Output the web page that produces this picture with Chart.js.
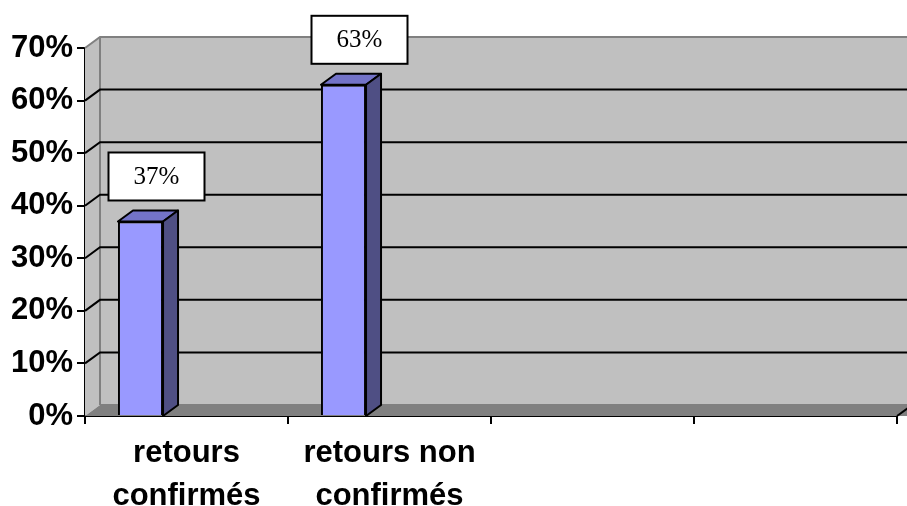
<!DOCTYPE html>
<html><head><meta charset="utf-8">
<script src="https://cdn.jsdelivr.net/npm/chart.js@4/dist/chart.umd.min.js"></script>
<style>html,body{margin:0;padding:0;background:#fff;}canvas{display:block;}</style>
</head><body>
<canvas id="c" width="907" height="506"></canvas>
<script>
const categories = [["retours", "confirmés"], ["retours non", "confirmés"], "", ""];
const values = [0.37, 0.63, null, null];
const yTicks = [0, 0.1, 0.2, 0.3, 0.4, 0.5, 0.6, 0.7];

const DX = 15, DY = -11;
const BAR_SHIFT = 0.2266; // fraction of category width the bars sit left of slot centre

const threeD = {
  id: 'threeD',
  beforeDatasetsDraw(chart) {
    const ctx = chart.ctx, a = chart.chartArea, ys = chart.scales.y;
    const L = a.left, R = a.right, T = a.top, B = a.bottom;
    ctx.save();
    ctx.fillStyle = '#C0C0C0';
    ctx.fillRect(L + DX, T + DY, R - L + 20, B - T);
    ctx.beginPath();
    ctx.moveTo(L, T); ctx.lineTo(L + DX, T + DY); ctx.lineTo(L + DX, B + DY); ctx.lineTo(L, B); ctx.closePath();
    ctx.fill();
    ctx.fillStyle = '#808080';
    ctx.beginPath();
    ctx.moveTo(L, B); ctx.lineTo(L + DX, B + DY); ctx.lineTo(R + DX + 20, B + DY); ctx.lineTo(R + 20, B); ctx.closePath();
    ctx.fill();
    ctx.strokeStyle = '#808080'; ctx.lineWidth = 2;
    ctx.beginPath();
    ctx.moveTo(L, T); ctx.lineTo(L + DX, T + DY); ctx.lineTo(R + DX + 20, T + DY);
    ctx.moveTo(L + DX, T + DY); ctx.lineTo(L + DX, B + DY);
    ctx.moveTo(L + DX, B + DY); ctx.lineTo(R + DX + 20, B + DY);
    ctx.stroke();
    ctx.strokeStyle = '#000'; ctx.lineWidth = 2;
    yTicks.forEach(v => {
      if (v <= 0 || v >= 0.7) return;
      const y = ys.getPixelForValue(v);
      ctx.beginPath();
      ctx.moveTo(L, y); ctx.lineTo(L + DX, y + DY); ctx.lineTo(R + DX + 20, y + DY);
      ctx.stroke();
    });
    ctx.beginPath(); ctx.moveTo(R, B); ctx.lineTo(R + DX, B + DY); ctx.stroke();
    ctx.restore();
    const xs = chart.scales.x;
    const w = (xs.right - xs.left) / categories.length;
    ctx.save();
    ctx.translate(-w * BAR_SHIFT, 0);
  },
  afterDatasetsDraw(chart) {
    const ctx = chart.ctx, a = chart.chartArea;
    const meta = chart.getDatasetMeta(0);
    const B = a.bottom;
    meta.data.forEach((el, i) => {
      if (values[i] == null) return;
      const x0 = el.x - el.width / 2, x1 = el.x + el.width / 2, yT = el.y;
      ctx.lineWidth = 2; ctx.strokeStyle = '#000'; ctx.lineJoin = 'round';
      ctx.fillStyle = '#7373C8';
      ctx.beginPath();
      ctx.moveTo(x0, yT); ctx.lineTo(x0 + DX, yT + DY); ctx.lineTo(x1 + DX, yT + DY); ctx.lineTo(x1, yT); ctx.closePath();
      ctx.fill(); ctx.stroke();
      ctx.fillStyle = '#4F4F84';
      ctx.beginPath();
      ctx.moveTo(x1, yT); ctx.lineTo(x1 + DX, yT + DY); ctx.lineTo(x1 + DX, B + DY); ctx.lineTo(x1, B); ctx.closePath();
      ctx.fill(); ctx.stroke();
    });
    ctx.restore();
    const xs = chart.scales.x;
    const w = (xs.right - xs.left) / categories.length;
    ctx.save();
    meta.data.forEach((el, i) => {
      if (values[i] == null) return;
      const cx = el.x - w * BAR_SHIFT + 16;
      const bottom = el.y + DY - 10;
      const bw = 96, bh = 48;
      ctx.fillStyle = '#fff';
      ctx.fillRect(cx - bw / 2, bottom - bh, bw, bh);
      ctx.strokeStyle = '#000'; ctx.lineWidth = 2;
      ctx.strokeRect(cx - bw / 2, bottom - bh, bw, bh);
      ctx.fillStyle = '#000';
      ctx.font = '25px "Liberation Serif", "Times New Roman", serif';
      ctx.textAlign = 'center'; ctx.textBaseline = 'middle';
      ctx.fillText(Math.round(values[i] * 100) + '%', cx, bottom - bh / 2 + 1);
    });
    ctx.restore();
  }
};

new Chart(document.getElementById('c'), {
  type: 'bar',
  data: {
    labels: categories,
    datasets: [{
      data: values,
      backgroundColor: '#9999FF',
      borderColor: '#000',
      borderWidth: 2,
      categoryPercentage: 1,
      barPercentage: 0.222
    }]
  },
  options: {
    responsive: false,
    animation: false,
    devicePixelRatio: 1,
    layout: { padding: { top: 48, right: 10, left: 0, bottom: 0 } },
    plugins: { legend: { display: false }, tooltip: { enabled: false } },
    scales: {
      x: {
        afterFit(s) { s.height = 90; },
        grid: { offset: true, drawOnChartArea: false, drawTicks: true, tickLength: 8, color: '#000', lineWidth: 2 },
        border: { display: true, color: '#000', width: 2 },
        ticks: {
          color: '#000', padding: 8, maxRotation: 0, autoSkip: false,
          font: { family: '"Liberation Sans", Arial, sans-serif', size: 31, weight: 'bold', lineHeight: 1.38 }
        }
      },
      y: {
        min: 0, max: 0.7,
        afterFit(s) { s.width = 85; },
        afterBuildTicks(s) { s.ticks = yTicks.map(v => ({ value: v })); },
        grid: { drawOnChartArea: false, drawTicks: true, tickLength: 8, color: '#000', lineWidth: 2 },
        border: { display: true, color: '#000', width: 2 },
        ticks: {
          color: '#000', padding: 4,
          callback: v => Math.round(v * 100) + '%',
          font: { family: '"Liberation Sans", Arial, sans-serif', size: 31, weight: 'bold' }
        }
      }
    }
  },
  plugins: [threeD]
});
</script>
</body></html>
